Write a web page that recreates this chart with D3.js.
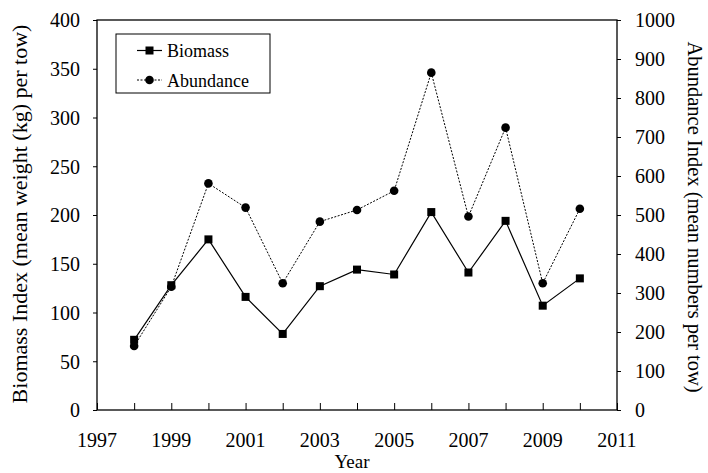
<!DOCTYPE html>
<html><head><meta charset="utf-8">
<script src="https://cdn.jsdelivr.net/npm/d3@7"></script>
<style>body{margin:0;background:#fff}svg text{font-family:'Liberation Serif','Times New Roman',Times,'DejaVu Serif',serif !important;fill:#000}</style>
</head><body><svg id="c" width="708" height="473"></svg>
<script>
const years = [1998,1999,2000,2001,2002,2003,2004,2005,2006,2007,2008,2009,2010];
const biomass = [72,128,175,116,78,127,144,139,203,141,194,107,135];
const abundance = [164,316,581,519,325,483,513,562,865,496,724,325,516];
const xTickLabels = [1997,1999,2001,2003,2005,2007,2009,2011];
const leftTicks = [0,50,100,150,200,250,300,350,400];
const rightTicks = [0,100,200,300,400,500,600,700,800,900,1000];

const FF = "'Liberation Serif','Times New Roman',Times,'DejaVu Serif',serif";
const svg = d3.select("#c");
const L=97,R=617,T=20,B=410;
const x = d3.scaleLinear().domain([1997,2011]).range([L,R]);
const yL = d3.scaleLinear().domain([0,400]).range([B,T]);
const yR = d3.scaleLinear().domain([0,1000]).range([B,T]);

svg.append("rect").attr("x",L).attr("y",T).attr("width",R-L).attr("height",B-T)
  .attr("fill","none").attr("stroke","#000").attr("stroke-width",1.3);

const xAxis = svg.append("g").attr("transform",`translate(0,${B})`)
  .call(d3.axisBottom(x).tickValues(d3.range(1997,2012)).tickSizeInner(-7).tickSizeOuter(0).tickFormat(""));
xAxis.select(".domain").remove();
xAxis.selectAll("line").attr("stroke","#000");
svg.append("g").attr("font-family",FF).selectAll("text").data(xTickLabels).join("text")
  .attr("x",d=>x(d)).attr("y",447).attr("text-anchor","middle").attr("font-size",20).text(d=>d);

const gl = svg.append("g").attr("transform",`translate(${L},0)`)
  .call(d3.axisLeft(yL).tickValues(leftTicks).tickSize(4).tickPadding(13).tickFormat(d3.format("d")));
gl.attr("font-family",FF);
gl.select(".domain").remove();
gl.selectAll("text").attr("font-size",20).attr("dy","0.34em");
const gr = svg.append("g").attr("transform",`translate(${R},0)`)
  .call(d3.axisRight(yR).tickValues(rightTicks).tickSize(4).tickPadding(14).tickFormat(d3.format("d")));
gr.attr("font-family",FF);
gr.select(".domain").remove();
gr.selectAll("text").attr("font-size",20).attr("dy","0.34em");

const tg = svg.append("g").attr("font-family",FF);
tg.append("text").attr("transform",`translate(27,214) rotate(-90)`)
  .attr("text-anchor","middle").attr("font-size",22).text("Biomass Index (mean weight (kg) per tow)");
tg.append("text").attr("transform",`translate(688,217) rotate(90)`)
  .attr("text-anchor","middle").attr("font-size",20.5).text("Abundance Index (mean numbers per tow)");
tg.append("text").attr("x",352).attr("y",468).attr("text-anchor","middle").attr("font-size",19).text("Year");

const lineB = d3.line().x((d,i)=>x(years[i])).y(d=>yL(d));
const lineA = d3.line().x((d,i)=>x(years[i])).y(d=>yR(d));
svg.append("path").attr("d",lineA(abundance)).attr("fill","none").attr("stroke","#000")
  .attr("stroke-width",1).attr("stroke-dasharray","2,1.5");
svg.append("path").attr("d",lineB(biomass)).attr("fill","none").attr("stroke","#000").attr("stroke-width",1.2);
svg.append("g").selectAll("circle").data(abundance).join("circle")
  .attr("cx",(d,i)=>x(years[i])).attr("cy",d=>yR(d)).attr("r",4.3).attr("fill","#000");
svg.append("g").selectAll("rect").data(biomass).join("rect")
  .attr("x",(d,i)=>x(years[i])-4).attr("y",d=>yL(d)-4).attr("width",8).attr("height",8).attr("fill","#000");

const lg = svg.append("g").attr("font-family",FF);
lg.append("rect").attr("x",116).attr("y",34).attr("width",154).attr("height",59)
  .attr("fill","#fff").attr("stroke","#000").attr("stroke-width",1);
lg.append("line").attr("x1",137).attr("x2",162).attr("y1",50.5).attr("y2",50.5).attr("stroke","#000").attr("stroke-width",1.2);
lg.append("rect").attr("x",145.5).attr("y",46.5).attr("width",8).attr("height",8).attr("fill","#000");
lg.append("text").attr("x",167).attr("y",57).attr("font-size",18).text("Biomass");
lg.append("line").attr("x1",137).attr("x2",162).attr("y1",80).attr("y2",80).attr("stroke","#000").attr("stroke-dasharray","2,1.5");
lg.append("circle").attr("cx",149.5).attr("cy",80).attr("r",4.3).attr("fill","#000");
lg.append("text").attr("x",167).attr("y",86.5).attr("font-size",18).text("Abundance");
</script></body></html>
